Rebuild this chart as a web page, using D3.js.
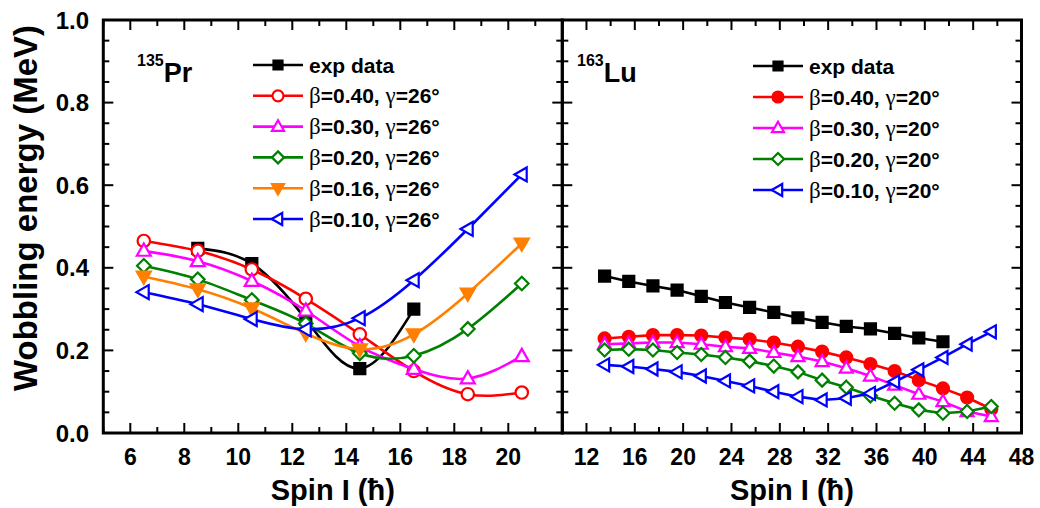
<!DOCTYPE html>
<html><head><meta charset="utf-8">
<script src="https://cdn.jsdelivr.net/npm/d3@7"></script>
<style>body{margin:0;background:#fff}svg{display:block}text{font-family:"Liberation Sans",Arial,sans-serif;font-weight:bold;fill:#000}</style>
</head><body>
<svg id="c" width="1040" height="508"></svg>
<script>
// ---- data: 135Pr (left panel) ----
const prSpinExp = [8.5, 10.5, 12.5, 14.5, 16.5];
const prExp = [0.447, 0.410, 0.275, 0.156, 0.300];
const prSpin = [6.5, 8.5, 10.5, 12.5, 14.5, 16.5, 18.5, 20.5];
const prB040 = [0.465, 0.441, 0.396, 0.325, 0.239, 0.150, 0.094, 0.098];
const prB030 = [0.441, 0.416, 0.368, 0.296, 0.210, 0.155, 0.132, 0.186];
const prB020 = [0.405, 0.372, 0.322, 0.265, 0.193, 0.187, 0.252, 0.362];
const prB016 = [0.379, 0.348, 0.302, 0.241, 0.203, 0.239, 0.338, 0.459];
const prB010 = [0.341, 0.312, 0.276, 0.251, 0.278, 0.370, 0.494, 0.626];
// ---- data: 163Lu (right panel) ----
const luSpinExp = [13.5, 15.5, 17.5, 19.5, 21.5, 23.5, 25.5, 27.5, 29.5, 31.5, 33.5, 35.5, 37.5, 39.5, 41.5];
const luExp = [0.380, 0.367, 0.356, 0.346, 0.331, 0.316, 0.304, 0.292, 0.279, 0.268, 0.258, 0.252, 0.241, 0.230, 0.221];
const luSpin = [13.5, 15.5, 17.5, 19.5, 21.5, 23.5, 25.5, 27.5, 29.5, 31.5, 33.5, 35.5, 37.5, 39.5, 41.5, 43.5, 45.5];
const luB040 = [0.229, 0.233, 0.237, 0.237, 0.236, 0.231, 0.227, 0.219, 0.209, 0.197, 0.183, 0.167, 0.150, 0.128, 0.108, 0.086, 0.058];
const luB030 = [0.215, 0.217, 0.219, 0.219, 0.215, 0.209, 0.205, 0.195, 0.185, 0.173, 0.157, 0.138, 0.116, 0.094, 0.076, 0.052, 0.040];
const luB020 = [0.201, 0.203, 0.201, 0.195, 0.190, 0.183, 0.174, 0.162, 0.148, 0.128, 0.111, 0.090, 0.072, 0.056, 0.048, 0.052, 0.064];
const luB010 = [0.165, 0.161, 0.155, 0.148, 0.138, 0.126, 0.114, 0.100, 0.088, 0.080, 0.084, 0.096, 0.124, 0.153, 0.183, 0.215, 0.245];
// ---- ticks & labels ----
const yTicks = [0.0, 0.2, 0.4, 0.6, 0.8, 1.0];
const prXTicks = [6, 8, 10, 12, 14, 16, 18, 20];
const luXTicks = [12, 16, 20, 24, 28, 32, 36, 40, 44, 48];
const prLegend = ["exp data", "0.40", "0.30", "0.20", "0.16", "0.10"];
const luLegend = ["exp data", "0.40", "0.30", "0.20", "0.10"];
const prGamma = "26", luGamma = "20";
const yTitle = "Wobbling energy (MeV)";
const xTitle = "Spin I (\u0127)";

const svg = d3.select("#c");
const yTop = 20, yBot = 433;
const y = d3.scaleLinear().domain([0, 1]).range([yBot, yTop]);
const xL = d3.scaleLinear().domain([5, 22]).range([103.3, 562.3]);
const xR = d3.scaleLinear().domain([10, 48]).range([562.3, 1021.5]);

const C = {k:"#000", r:"#ff0000", m:"#ff00ff", g:"#008000", o:"#ff8000", b:"#0000ff"};

function shape(t, s) {
  switch (t) {
    case "sq": return `M${-s},${-s}H${s}V${s}H${-s}Z`;
    case "ci": return `M${s},0A${s},${s} 0 1,1 ${-s},0A${s},${s} 0 1,1 ${s},0Z`;
    case "tu": return `M0,${-s*1.05}L${s*1.0},${s*0.7}L${-s*1.0},${s*0.7}Z`;
    case "td": return `M0,${s*1.05}L${s*1.0},${-s*0.7}L${-s*1.0},${-s*0.7}Z`;
    case "tl": return `M${-s*1.05},0L${s*0.7},${-s*1.0}L${s*0.7},${s*1.0}Z`;
    case "di": return `M0,${-s}L${s},0L0,${s}L${-s},0Z`;
  }
}

function drawSeries(g, x, xs, ys, col, sym, size, filled, curve) {
  const pts = xs.map((v, i) => [v, ys[i]]);
  const line = d3.line().x(d => x(d[0])).y(d => y(d[1])).curve(curve);
  g.append("path").attr("d", line(pts)).attr("fill", "none").attr("stroke", col).attr("stroke-width", 2.6);
  g.selectAll(null).data(pts).enter().append("path")
    .attr("d", shape(sym, size))
    .attr("transform", d => `translate(${x(d[0])},${y(d[1])})`)
    .attr("fill", filled ? col : "#fff").attr("stroke", col).attr("stroke-width", 2.2);
}

// left panel series
const gL = svg.append("g");
drawSeries(gL, xL, prSpinExp, prExp, C.k, "sq", 5.5, true, d3.curveNatural);
drawSeries(gL, xL, prSpin, prB040, C.r, "ci", 6.2, false, d3.curveNatural);
drawSeries(gL, xL, prSpin, prB030, C.m, "tu", 7, false, d3.curveNatural);
drawSeries(gL, xL, prSpin, prB020, C.g, "di", 6.8, false, d3.curveNatural);
drawSeries(gL, xL, prSpin, prB016, C.o, "td", 7, true, d3.curveNatural);
drawSeries(gL, xL, prSpin, prB010, C.b, "tl", 7, false, d3.curveNatural);

// right panel series
const gR = svg.append("g");
drawSeries(gR, xR, luSpinExp, luExp, C.k, "sq", 5.5, true, d3.curveLinear);
drawSeries(gR, xR, luSpin, luB040, C.r, "ci", 6, true, d3.curveLinear);
drawSeries(gR, xR, luSpin, luB030, C.m, "tu", 6.5, false, d3.curveLinear);
drawSeries(gR, xR, luSpin, luB020, C.g, "di", 6.5, false, d3.curveLinear);
drawSeries(gR, xR, luSpin, luB010, C.b, "tl", 6.5, false, d3.curveLinear);

// axes (ticks inward on all sides)
function frame(x, majors, minorStep) {
  const [x0, x1] = x.range();
  const g = svg.append("g");
  const maj = 10, mnr = 6;
  const xMin = d3.range(x.domain()[0], x.domain()[1] + 1e-9, minorStep);
  xMin.forEach(v => {
    const L = majors.includes(v) ? maj : mnr;
    g.append("line").attr("x1", x(v)).attr("x2", x(v)).attr("y1", yBot).attr("y2", yBot - L).attr("stroke", "#000").attr("stroke-width", 2);
    g.append("line").attr("x1", x(v)).attr("x2", x(v)).attr("y1", yTop).attr("y2", yTop + L).attr("stroke", "#000").attr("stroke-width", 2);
  });
  d3.range(0, 1.0001, 0.05).forEach(v => {
    const isMaj = Math.abs(v * 5 - Math.round(v * 5)) < 1e-6;
    const L = isMaj ? maj : mnr;
    g.append("line").attr("x1", x0).attr("x2", x0 + L).attr("y1", y(v)).attr("y2", y(v)).attr("stroke", "#000").attr("stroke-width", 2);
    g.append("line").attr("x1", x1).attr("x2", x1 - L).attr("y1", y(v)).attr("y2", y(v)).attr("stroke", "#000").attr("stroke-width", 2);
  });
  g.append("rect").attr("x", x0).attr("y", yTop).attr("width", x1 - x0).attr("height", yBot - yTop)
    .attr("fill", "none").attr("stroke", "#000").attr("stroke-width", 3);
  g.selectAll(null).data(majors).enter().append("text")
    .attr("x", d => x(d)).attr("y", 465).attr("text-anchor", "middle").style("font-size", "23px").text(d => d);
  g.append("text").attr("x", (x0 + x1) / 2).attr("y", 500).attr("text-anchor", "middle").style("font-size", "29px").text(xTitle);
}
frame(xL, prXTicks, 1);
frame(xR, luXTicks, 2);

// y tick labels and title
svg.selectAll(null).data(yTicks).enter().append("text")
  .attr("x", 89).attr("y", d => y(d) + 8.5).attr("text-anchor", "end").style("font-size", "24px")
  .text(d => d.toFixed(1));
svg.append("text").attr("transform", "translate(37,208) rotate(-90)").attr("text-anchor", "middle")
  .style("font-size", "33px").text(yTitle);

// nucleus labels
function nucleus(xp, mass, el) {
  const t = svg.append("text").attr("x", xp).attr("y", 82);
  t.append("tspan").attr("dy", -16).style("font-size", "16px").text(mass);
  t.append("tspan").attr("dy", 16).style("font-size", "27px").text(el);
}
nucleus(137, "135", "Pr");
nucleus(577, "163", "Lu");

// legends
function legend(x0, y0, dy, items, gamma) {
  items.forEach((it, i) => {
    const yy = y0 + i * dy;
    svg.append("line").attr("x1", x0).attr("x2", x0 + 50).attr("y1", yy).attr("y2", yy)
      .attr("stroke", it.col).attr("stroke-width", 2.6);
    svg.append("path").attr("d", shape(it.sym, it.size)).attr("transform", `translate(${x0 + 25},${yy})`)
      .attr("fill", it.filled ? it.col : "#fff").attr("stroke", it.col).attr("stroke-width", 2.2);
    const t = svg.append("text").attr("x", x0 + 56).attr("y", yy + 7.5).style("font-size", "21px");
    if (i === 0) { t.text(it.label); }
    else {
      t.append("tspan").style("font-family", "'Liberation Serif',serif").style("font-weight", "normal").style("font-size", "23px").text("\u03b2");
      t.append("tspan").text("=" + it.label + ", ");
      t.append("tspan").style("font-family", "'Liberation Serif',serif").style("font-weight", "normal").style("font-size", "23px").text("\u03b3");
      t.append("tspan").text("=" + gamma + "\u00b0");
    }
  });
}
const prSyms = [["sq", C.k, true, 4.5], ["ci", C.r, false, 5.5], ["tu", C.m, false, 6], ["di", C.g, false, 6], ["td", C.o, true, 6], ["tl", C.b, false, 6]];
legend(253, 65, 30.8, prLegend.map((l, i) => ({label: l, sym: prSyms[i][0], col: prSyms[i][1], filled: prSyms[i][2], size: prSyms[i][3]})), prGamma);
const luSyms = [["sq", C.k, true, 4.5], ["ci", C.r, true, 5.5], ["tu", C.m, false, 6], ["di", C.g, false, 6], ["tl", C.b, false, 6]];
legend(753, 66, 31, luLegend.map((l, i) => ({label: l, sym: luSyms[i][0], col: luSyms[i][1], filled: luSyms[i][2], size: luSyms[i][3]})), luGamma);
</script>
</body></html>
